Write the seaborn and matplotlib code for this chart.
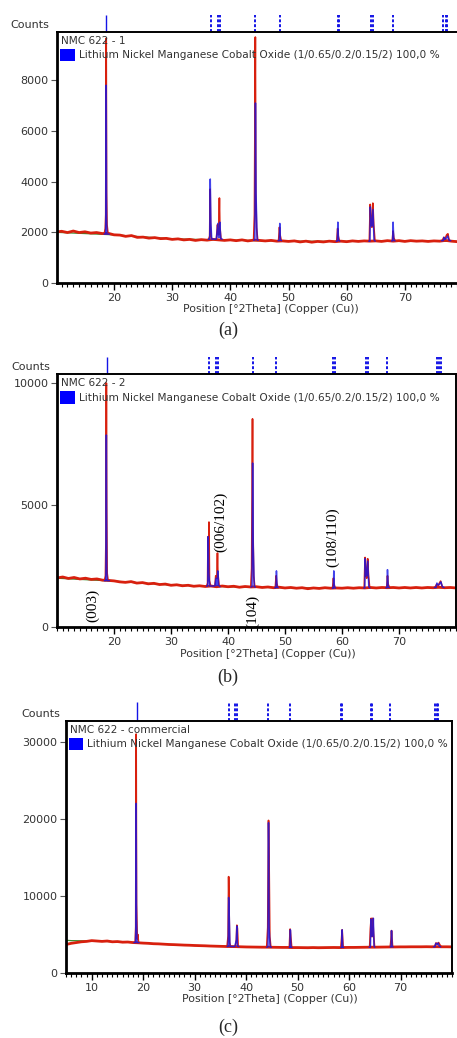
import matplotlib
matplotlib.use("Agg")
import matplotlib.pyplot as plt
import matplotlib.ticker as ticker
from matplotlib.patches import Rectangle
import numpy as np
import pandas as pd
import seaborn as sns

nan = float("nan")

# shared sample grid for the baselines (1 degree steps)
grid_a = list(range(10, 81))
grid_c = list(range(5, 81))

# reference pattern lines (Lithium Nickel Manganese Cobalt Oxide)
ref_pos = [18.7, 36.6, 37.9, 38.2, 44.3, 48.5, 58.5, 58.7, 64.2, 64.5, 67.9, 76.6, 77.0, 77.3]

# ---------------- (a) NMC 622 - 1 ----------------
a_base_y = [2010, 2040, 1990, 2050, 1990, 2020, 1970, 1990, 1950, 1960,
            1900, 1890, 1840, 1870, 1800, 1810, 1770, 1790, 1750, 1760,
            1720, 1740, 1700, 1720, 1680, 1710, 1690, 1720, 1700, 1680,
            1700, 1670, 1700, 1660, 1690, 1680, 1660, 1680, 1650, 1660,
            1640, 1660, 1620, 1650, 1610, 1640, 1620, 1650, 1630, 1650,
            1630, 1660, 1640, 1660, 1650, 1660, 1640, 1670, 1650, 1670,
            1640, 1670, 1650, 1660, 1640, 1660, 1650, 1680, 1650, 1630, 1620]
a_peak_x = [18.35, 18.5, 18.58, 18.66, 18.72, 18.8, 18.95, nan,
            36.3, 36.45, 36.53, 36.6, 36.7, 36.9, nan,
            37.6, 37.8, 37.9, 38.0, 38.12, 38.2, 38.4, nan,
            44.0, 44.15, 44.3, 44.38, 44.5, 44.7, nan,
            48.3, 48.45, 48.55, 48.75, nan,
            58.3, 58.45, 58.55, 58.75, nan,
            63.9, 64.05, 64.2, 64.35, 64.5, 64.65, 64.85, nan,
            67.85, 67.98, 68.1, 68.35, nan,
            76.4, 76.7, 76.9, 77.2, 77.4, 77.6]
a_peak_y = [1960, 2150, 2700, 9650, 3550, 2300, 1980, nan,
            1740, 1850, 3700, 2300, 1800, 1720, nan,
            1720, 2300, 2000, 1900, 3350, 2200, 1720, nan,
            1700, 2700, 9700, 3550, 2200, 1700, nan,
            1670, 2200, 1900, 1670, nan,
            1650, 2150, 1850, 1650, nan,
            1670, 3100, 2300, 2200, 3150, 2300, 1680, nan,
            1680, 2050, 1780, 1660, nan,
            1660, 1800, 1730, 1900, 1940, 1700]
a_calc_x = [18.3, 18.55, 18.6, 18.66, 18.72, 18.78, 19.2, nan,
            36.2, 36.45, 36.55, 36.65, 36.8, 37.6, 37.85, 37.95, 38.1, 38.2, 38.35, 38.6, nan,
            44.0, 44.22, 44.32, 44.42, 44.6, 44.8, nan,
            48.2, 48.42, 48.5, 48.6, 48.8, nan,
            58.2, 58.4, 58.48, 58.6, 58.8, nan,
            63.8, 64.0, 64.07, 64.2, 64.35, 64.52, 64.7, 64.9, nan,
            67.7, 67.9, 67.98, 68.1, 68.3, nan,
            76.3, 76.6, 76.75, 76.9, 77.2, 77.35, 77.6, 77.9]
a_calc_y = [1930, 1930, 2600, 7800, 2600, 1930, 1930, nan,
            1730, 1730, 4100, 2400, 1730, 1730, 2350, 1800, 1800, 2400, 1750, 1730, nan,
            1690, 1700, 7100, 3550, 1700, 1690, nan,
            1670, 1670, 2350, 1700, 1670, nan,
            1650, 1650, 2400, 1700, 1650, nan,
            1650, 1650, 3000, 2250, 2250, 2900, 1700, 1650, nan,
            1660, 1660, 2400, 1700, 1660, nan,
            1670, 1670, 1800, 1720, 1780, 1850, 1680, 1670]
a_bg_x = [10, 20, 30, 40, 50, 60, 70, 80]
a_bg_y = [2000, 1900, 1740, 1690, 1650, 1640, 1650, 1640]

# ---------------- (b) NMC 622 - 2 ----------------
b_base_y = [2010, 2050, 1990, 2030, 1970, 2000, 1950, 1970, 1920, 1910,
            1890, 1850, 1830, 1860, 1800, 1820, 1770, 1790, 1740, 1760,
            1710, 1730, 1690, 1710, 1670, 1690, 1660, 1680, 1650, 1680,
            1650, 1670, 1630, 1660, 1640, 1650, 1620, 1640, 1610, 1630,
            1600, 1620, 1590, 1610, 1570, 1600, 1580, 1610, 1590, 1600,
            1590, 1610, 1590, 1610, 1600, 1620, 1600, 1620, 1610, 1620,
            1600, 1620, 1600, 1620, 1600, 1620, 1610, 1630, 1610, 1620, 1600]
b_peak_x = [18.35, 18.5, 18.58, 18.66, 18.72, 18.8, 18.95, nan,
            36.25, 36.42, 36.5, 36.58, 36.66, 36.75, 36.95, nan,
            37.7, 37.85, 37.95, 38.05, 38.15, 38.22, 38.45, nan,
            44.0, 44.15, 44.3, 44.38, 44.5, 44.7, nan,
            48.3, 48.45, 48.55, 48.75, nan,
            58.35, 58.5, 58.6, 58.8, nan,
            63.9, 64.05, 64.2, 64.35, 64.5, 64.65, 64.85, nan,
            67.85, 67.98, 68.1, 68.35, nan,
            76.3, 76.6, 76.9, 77.1, 77.3, 77.6]
b_peak_y = [1920, 2100, 3450, 10000, 4800, 2200, 1930, nan,
            1680, 1800, 3700, 2600, 4300, 1900, 1680, nan,
            1660, 2100, 2050, 2000, 3030, 2200, 1660, nan,
            1640, 2400, 8530, 4100, 2100, 1640, nan,
            1610, 2100, 1800, 1610, nan,
            1590, 2000, 1750, 1590, nan,
            1600, 2850, 2100, 2000, 2800, 2100, 1610, nan,
            1610, 2100, 1750, 1610, nan,
            1610, 1750, 1700, 1800, 1880, 1650]
b_calc_x = [18.3, 18.55, 18.6, 18.66, 18.72, 18.78, 19.2, nan,
            36.2, 36.45, 36.52, 36.62, 36.8, 37.7, 37.9, 38.0, 38.1, 38.2, 38.35, 38.6, nan,
            44.0, 44.22, 44.32, 44.42, 44.6, 44.8, nan,
            48.2, 48.42, 48.5, 48.6, 48.8, nan,
            58.3, 58.48, 58.56, 58.66, 58.85, nan,
            63.8, 64.0, 64.07, 64.2, 64.35, 64.52, 64.7, 64.9, nan,
            67.7, 67.9, 67.98, 68.1, 68.3, nan,
            76.2, 76.5, 76.65, 76.9, 77.2, 77.35, 77.6, 77.9]
b_calc_y = [1900, 1900, 2500, 7870, 2500, 1900, 1900, nan,
            1680, 1680, 3700, 2200, 1680, 1680, 2000, 1700, 1700, 2300, 1700, 1660, nan,
            1640, 1650, 6720, 3400, 1650, 1640, nan,
            1610, 1610, 2300, 1650, 1610, nan,
            1590, 1590, 2300, 1650, 1590, nan,
            1600, 1600, 2800, 2100, 2100, 2700, 1650, 1600, nan,
            1610, 1610, 2350, 1650, 1610, nan,
            1620, 1620, 1800, 1720, 1780, 1850, 1650, 1620]
b_bg_x = [10, 20, 30, 40, 50, 60, 70, 80]
b_bg_y = [2000, 1880, 1720, 1650, 1610, 1600, 1610, 1610]

# hkl labels on panel (b)
hkl_text = ["(003)", "(006/102)", "(104)", "(108/110)"]
hkl_x = [16.3, 38.7, 44.4, 58.4]
hkl_y = [900, 4300, 650, 3700]

# ---------------- (c) NMC 622 - commercial ----------------
c_base_y = [3700, 3850, 3950, 4050, 4100, 4200, 4150, 4100, 4150, 4050,
            4080, 4000, 4020, 3950, 3920, 3880, 3850, 3800, 3780, 3740,
            3700, 3680, 3650, 3620, 3600, 3570, 3550, 3530, 3500, 3480,
            3460, 3440, 3430, 3420, 3400, 3380, 3370, 3360, 3350, 3350,
            3340, 3330, 3320, 3320, 3300, 3300, 3290, 3280, 3300, 3280,
            3290, 3300, 3310, 3300, 3310, 3320, 3320, 3330, 3340, 3350,
            3350, 3360, 3370, 3380, 3380, 3390, 3390, 3400, 3400, 3400,
            3410, 3400, 3410, 3400, 3400, 3390]
c_peak_x = [18.3, 18.45, 18.55, 18.63, 18.7, 18.85, 18.95, 19.1, nan,
            36.3, 36.5, 36.6, 36.68, 36.78, 36.95, nan,
            37.9, 38.1, 38.2, 38.3, 38.45, nan,
            44.0, 44.2, 44.35, 44.45, 44.6, 44.8, nan,
            48.4, 48.55, 48.65, 48.85, nan,
            58.4, 58.55, 58.65, 58.85, nan,
            64.0, 64.15, 64.3, 64.45, 64.6, 64.75, 64.95, nan,
            68.0, 68.15, 68.25, 68.45, nan,
            76.6, 76.9, 77.2, 77.4, 77.6, 77.9]
c_peak_y = [3950, 4100, 6000, 31000, 9000, 4400, 5000, 3900, nan,
            3450, 4800, 12500, 8600, 4000, 3450, nan,
            3430, 4300, 6200, 5800, 3430, nan,
            3350, 5900, 19800, 15100, 4700, 3350, nan,
            3320, 5700, 4900, 3320, nan,
            3310, 4500, 5600, 3310, nan,
            3350, 5800, 7100, 4700, 7100, 5200, 3350, nan,
            3380, 4300, 5500, 3380, nan,
            3400, 3900, 3750, 3950, 3700, 3400]
c_calc_x = [18.2, 18.5, 18.57, 18.63, 18.7, 18.8, 19.2, nan,
            36.3, 36.52, 36.6, 36.68, 36.85, 37.8, 38.1, 38.2, 38.3, 38.6, nan,
            44.0, 44.25, 44.35, 44.45, 44.65, 44.9, nan,
            48.4, 48.52, 48.6, 48.7, 48.9, nan,
            58.4, 58.58, 58.66, 58.75, 58.95, nan,
            63.9, 64.15, 64.25, 64.4, 64.6, 64.72, 64.85, 65.0, nan,
            68.0, 68.18, 68.25, 68.35, 68.55, nan,
            76.4, 76.7, 76.85, 77.1, 77.3, 77.5, 77.8]
c_calc_y = [3950, 3950, 6000, 22000, 7000, 3950, 3950, nan,
            3450, 3450, 9800, 8600, 3450, 3430, 4300, 6100, 3500, 3430, nan,
            3350, 3400, 19500, 6000, 3400, 3350, nan,
            3320, 3320, 5600, 3400, 3320, nan,
            3310, 3310, 5600, 3400, 3310, nan,
            3350, 3350, 7000, 4800, 4800, 7100, 3500, 3350, nan,
            3380, 3380, 5500, 3450, 3380, nan,
            3400, 3400, 3850, 3700, 3900, 3500, 3400]
c_bg_x = [5, 6, 8, 10, 15, 20, 25, 30, 40, 50, 60, 70, 80]
c_bg_y = [4250, 4200, 4180, 4150, 4050, 3880, 3700, 3570, 3400, 3300, 3320, 3390, 3400]

sample_names = ["NMC 622 - 1", "NMC 622 - 2", "NMC 622 - commercial"]
phase_label = "Lithium Nickel Manganese Cobalt Oxide (1/0.65/0.2/0.15/2) 100,0 %"

RED = "#d8200e"
BLUE = "#1414e6"
GREEN = "#3a8a2a"
TXT = "#333333"


def segments(xs, ys):
    # split a NaN separated list into numbered segments for seaborn units
    df = pd.DataFrame({"x": xs, "y": ys})
    df["seg"] = df["y"].isna().cumsum()
    return df.dropna()


def draw_panel(ax, grid, base_y, peak_x, peak_y, calc_x, calc_y, bg_x, bg_y,
               name, xlim, xticks, ylim, yticks, head_h):
    bg = pd.DataFrame({"x": bg_x, "y": bg_y})
    sns.lineplot(data=bg, x="x", y="y", ax=ax, color=GREEN, lw=0.9, legend=False)

    base = pd.DataFrame({"x": grid, "y": base_y})
    sns.lineplot(data=base, x="x", y="y", ax=ax, color=RED, lw=2.0, legend=False)
    peaks = segments(peak_x, peak_y)
    sns.lineplot(data=peaks, x="x", y="y", units="seg", estimator=None, ax=ax,
                 color=RED, lw=1.2, legend=False)
    calc = segments(calc_x, calc_y)
    sns.lineplot(data=calc, x="x", y="y", units="seg", estimator=None, ax=ax,
                 color=BLUE, lw=1.1, alpha=0.8, legend=False)

    # reference stick marks above the frame
    tr = ax.get_xaxis_transform()
    ax.vlines(ref_pos[:1], 1.0, 1.0 + head_h, transform=tr, color=BLUE, lw=1.0, clip_on=False)
    ax.vlines(ref_pos[1:], 1.0, 1.0 + head_h, transform=tr, color=BLUE, lw=1.4,
              linestyles=(0, (1.5, 1)), clip_on=False)

    ax.set_xlim(*xlim)
    ax.set_ylim(*ylim)
    ax.set_xticks(xticks)
    ax.set_yticks(yticks)
    ax.xaxis.set_minor_locator(ticker.MultipleLocator(1))
    ax.tick_params(axis="both", direction="out", labelsize=8, labelcolor=TXT, pad=2)
    ax.tick_params(axis="x", which="major", length=5, width=1, color="black", bottom=True)
    ax.tick_params(axis="x", which="minor", length=3, width=0.8, color="black", bottom=True)
    ax.tick_params(axis="y", length=4, width=0.8, color="#555555", left=True)
    for side in ["left", "bottom"]:
        ax.spines[side].set_linewidth(2.0)
    for side in ["top", "right"]:
        ax.spines[side].set_linewidth(1.4)
    for sp in ax.spines.values():
        sp.set_color("black")
        sp.set_visible(True)

    ax.set_ylabel("")
    ax.set_xlabel("Position [°2Theta] (Copper (Cu))", fontsize=7.8, color=TXT)
    ax.xaxis.set_label_coords(0.528, -0.085)
    ax.text(-0.115, 1.028, "Counts", transform=ax.transAxes, fontsize=8,
            color=TXT, ha="left", va="center")

    # in-plot legend
    ax.text(0.01, 0.966, name, transform=ax.transAxes, fontsize=7.6,
            color=TXT, ha="left", va="center")
    ax.add_patch(Rectangle((0.008, 0.883), 0.037, 0.05, transform=ax.transAxes,
                           facecolor="#0000ff", edgecolor="none"))
    ax.text(0.055, 0.907, phase_label, transform=ax.transAxes, fontsize=7.6,
            color=TXT, ha="left", va="center", clip_on=True)


sns.set_style("white")
plt.rcParams["font.family"] = ["DejaVu Sans"]

fig = plt.figure(figsize=(4.57, 10.38), dpi=100)
ax_a = fig.add_axes([57 / 457, 755 / 1038, 406 / 457, 251 / 1038])
ax_b = fig.add_axes([57 / 457, 411 / 1038, 399 / 457, 253 / 1038])
ax_c = fig.add_axes([66 / 457, 65 / 1038, 386 / 457, 252 / 1038])

draw_panel(ax_a, grid_a, a_base_y, a_peak_x, a_peak_y, a_calc_x, a_calc_y,
           a_bg_x, a_bg_y, sample_names[0], (10.2, 80), [20, 30, 40, 50, 60, 70],
           (0, 9900), [0, 2000, 4000, 6000, 8000], 0.068)
draw_panel(ax_b, grid_a, b_base_y, b_peak_x, b_peak_y, b_calc_x, b_calc_y,
           b_bg_x, b_bg_y, sample_names[1], (10, 80), [20, 30, 40, 50, 60, 70],
           (0, 10370), [0, 5000, 10000], 0.067)
draw_panel(ax_c, grid_c, c_base_y, c_peak_x, c_peak_y, c_calc_x, c_calc_y,
           c_bg_x, c_bg_y, sample_names[2], (5, 80), [10, 20, 30, 40, 50, 60, 70],
           (0, 32700), [0, 10000, 20000, 30000], 0.075)

for t, x, y in zip(hkl_text, hkl_x, hkl_y):
    ax_b.text(x, y, t, rotation=90, ha="center", va="center", fontsize=11,
              family="Liberation Serif", color="black")

for lab, y in zip(["(a)", "(b)", "(c)"], [330, 677, 1027]):
    fig.text(228 / 457, 1 - y / 1038, lab, ha="center", va="center",
             fontsize=13, family="Liberation Serif")

fig.savefig("out.png", dpi=100)
